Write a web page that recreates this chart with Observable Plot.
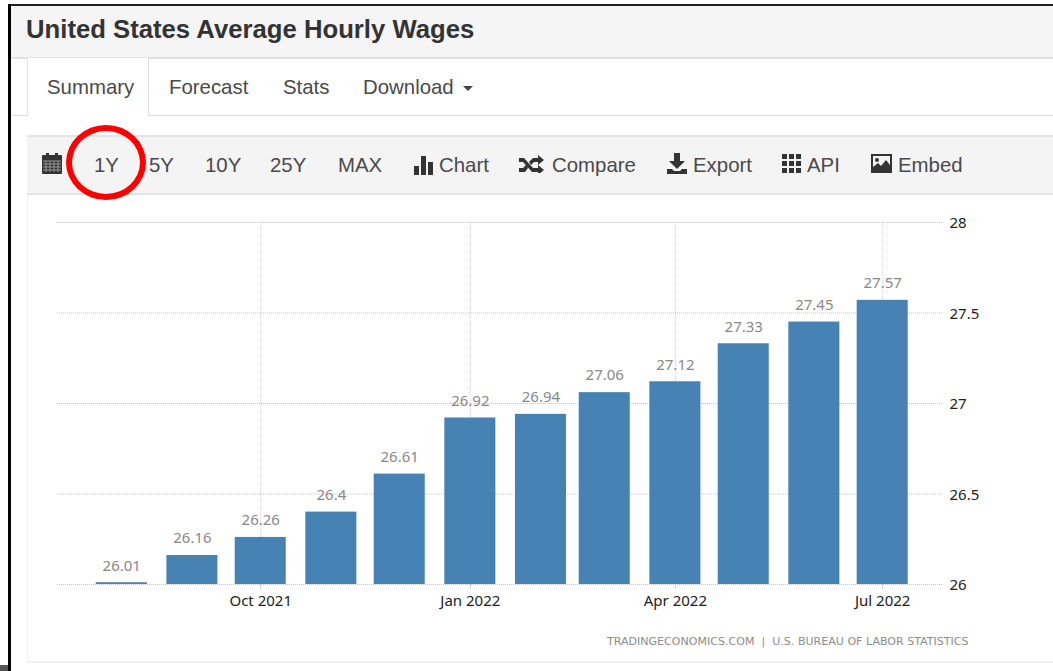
<!DOCTYPE html>
<html><head><meta charset="utf-8">
<script src="https://cdn.jsdelivr.net/npm/d3@7"></script>
<script src="https://cdn.jsdelivr.net/npm/@observablehq/plot@0.6"></script>
<style>
html,body{margin:0;padding:0;background:#fff;width:1053px;height:671px;overflow:hidden;font-family:"Liberation Sans",Arial,sans-serif;color:#444}
.a{position:absolute}
.t{position:absolute;white-space:nowrap;font-size:20.4px;line-height:24px;color:#4a4a4a}
#chart{position:absolute;left:0;top:200px}
svg.i{position:absolute;fill:#333}
</style></head><body>
<div class="a" style="left:9px;top:4px;width:1044px;height:2px;background:#222"></div>
<div class="a" style="left:8px;top:4px;width:3px;height:667px;background:#000"></div>
<div class="a" style="left:0;top:665px;width:8px;height:6px;background:#555"></div>
<div class="a" style="left:11px;top:6px;width:1042px;height:51px;background:#f5f5f5;border-bottom:2px solid #e2e2e2"></div>
<div class="t" style="left:26px;top:15px;font-size:25.7px;line-height:28px;font-weight:bold;color:#333">United States Average Hourly Wages</div>
<div class="a" style="left:11px;top:115px;width:1042px;height:1px;background:#ddd"></div>
<div class="a" style="left:27px;top:58px;width:122px;height:58px;background:#fff;border-left:1px solid #e4e4e4;border-right:1px solid #ddd;box-sizing:border-box"></div>
<div class="t" style="left:47px;top:75px">Summary</div>
<div class="t" style="left:169px;top:75px">Forecast</div>
<div class="t" style="left:283px;top:75px">Stats</div>
<div class="t" style="left:363px;top:75px">Download</div>
<div class="a" style="left:463px;top:86px;width:0;height:0;border-left:5px solid transparent;border-right:5px solid transparent;border-top:5px solid #444"></div>
<div class="a" style="left:27px;top:135px;width:1026px;height:60px;background:#f4f4f4;border-top:2px solid #e4e4e4;border-bottom:2px solid #e4e4e4;box-sizing:border-box"></div>
<div class="a" style="left:27px;top:195px;width:1026px;height:468px;border-left:1px solid #f0f0f0;border-bottom:2px solid #f2f2f2;box-sizing:border-box"></div>
<svg class="i" style="left:42px;top:153px" width="20" height="21" viewBox="0 0 20 21"><rect x="0" y="2" width="20" height="19" rx="1"/><rect x="4" y="0" width="3" height="4"/><rect x="13" y="0" width="3" height="4"/><path d="M1 8h18M1 11h18M1 14h18M1 17h18M4 8v11M8 8v11M12 8v11M16 8v11" stroke="#999" stroke-width="1" fill="none"/></svg>
<div class="t" style="left:94px;top:153px">1Y</div>
<div class="t" style="left:149px;top:153px">5Y</div>
<div class="t" style="left:205px;top:153px">10Y</div>
<div class="t" style="left:270px;top:153px">25Y</div>
<div class="t" style="left:338px;top:153px">MAX</div>
<svg class="i" style="left:414px;top:156px" width="20" height="19" viewBox="0 0 20 19"><rect x="0" y="10" width="5" height="9"/><rect x="7" y="0" width="5" height="19"/><rect x="14" y="6" width="5" height="13"/></svg>
<div class="t" style="left:439px;top:153px">Chart</div>
<svg class="i" style="left:519px;top:155px" width="25" height="18" viewBox="0 0 25 18"><path d="M0 3h5l9 10h5v-3l6 5-6 5v-3h-6L4 7H0zM0 13h4l3-3 2 3-3 4H0zM14 3h5V0l6 5-6 5V7h-4l-3 3-2-3z"/></svg>
<div class="t" style="left:552px;top:153px">Compare</div>
<svg class="i" style="left:667px;top:153px" width="20" height="21" viewBox="0 0 20 21"><path d="M7 0h6v8h5l-8 8-8-8h5zM0 16h5l2 2h6l2-2h5v5H0z"/></svg>
<div class="t" style="left:693px;top:153px">Export</div>
<svg class="i" style="left:782px;top:154px" width="20" height="20" viewBox="0 0 20 20"><path d="M0 0h5v5H0zM7 0h5v5H7zM14 0h5v5h-5zM0 7h5v5H0zM7 7h5v5H7zM14 7h5v5h-5zM0 14h5v5H0zM7 14h5v5H7zM14 14h5v5h-5z"/></svg>
<div class="t" style="left:807px;top:153px">API</div>
<svg class="i" style="left:871px;top:154px" width="21" height="19" viewBox="0 0 21 19"><path fill-rule="evenodd" d="M0 0h21v19H0zM2 2v11l5-4 3 3 5-6 4 5V2z"/><circle cx="6" cy="6" r="2"/></svg>
<div class="t" style="left:898px;top:153px">Embed</div>
<div id="chart"></div>
<div class="a" style="left:607px;top:635px;font:11px 'DejaVu Sans',sans-serif;color:#8c8c8c;white-space:nowrap;letter-spacing:.03px">TRADINGECONOMICS.COM &nbsp;|&nbsp; U.S. BUREAU OF LABOR STATISTICS</div>
<div class="a" style="left:66px;top:125px;width:80px;height:75px;border:6px solid #ff0000;border-radius:50%;box-sizing:border-box"></div>
<script>
const months = ["2021-08-01","2021-09-01","2021-10-01","2021-11-01","2021-12-01","2022-01-01","2022-02-01","2022-03-01","2022-04-01","2022-05-01","2022-06-01","2022-07-01"];
const wages = [26.01,26.16,26.26,26.4,26.61,26.92,26.94,27.06,27.12,27.33,27.45,27.57];
const yTicks = [26,26.5,27,27.5,28];
const xTicks = ["2021-10-01","2022-01-01","2022-04-01","2022-07-01"];
const xDomain = ["2021-07-03T19:00:00Z","2022-07-27T06:00:00Z"];
const barHalfDays = 11.2;

const day = s => new Date(s.length > 10 ? s : s + "T00:00:00Z");
const rows = months.map((m, i) => ({date: day(m), value: wages[i]}));
const off = (d, n) => new Date(+d + n * 864e5);
const labelFont = "'Noto Sans',sans-serif";
const plot = Plot.plot({
  width: 1053, height: 440,
  marginLeft: 57, marginRight: 111, marginTop: 22, marginBottom: 56,
  style: {background: "transparent", fontFamily: labelFont, fontSize: "15px", overflow: "visible"},
  x: {type: "utc", domain: xDomain.map(day)},
  y: {domain: [26, 28]},
  marks: [
    Plot.gridY(yTicks, {stroke: "#c4c4c4", strokeOpacity: 1, strokeDasharray: "1 1"}),
    Plot.gridX(xTicks.map(day), {stroke: "#cfcfcf", strokeOpacity: 1, strokeDasharray: "1 1"}),
    Plot.rectY(rows, {x1: d => off(d.date, -barHalfDays), x2: d => off(d.date, barHalfDays), y1: () => 26, y2: "value", fill: "#4682b4"}),
    Plot.text(rows, {x: "date", y: "value", text: d => String(d.value), dy: -17, fill: "#888", fontSize: 15}),
    Plot.axisY(yTicks, {anchor: "right", tickSize: 0, tickPadding: 7, label: null, tickFormat: d => String(d), color: "#222", fontSize: 15, dy: 1}),
    Plot.axisX(xTicks.map(day), {anchor: "bottom", tickSize: 5, tickPadding: 6, label: null, tickFormat: d3.utcFormat("%b %Y"), stroke: "#ccc", color: "#222", fontSize: 15})
  ]
});
document.getElementById("chart").appendChild(plot);
</script>
</body></html>
